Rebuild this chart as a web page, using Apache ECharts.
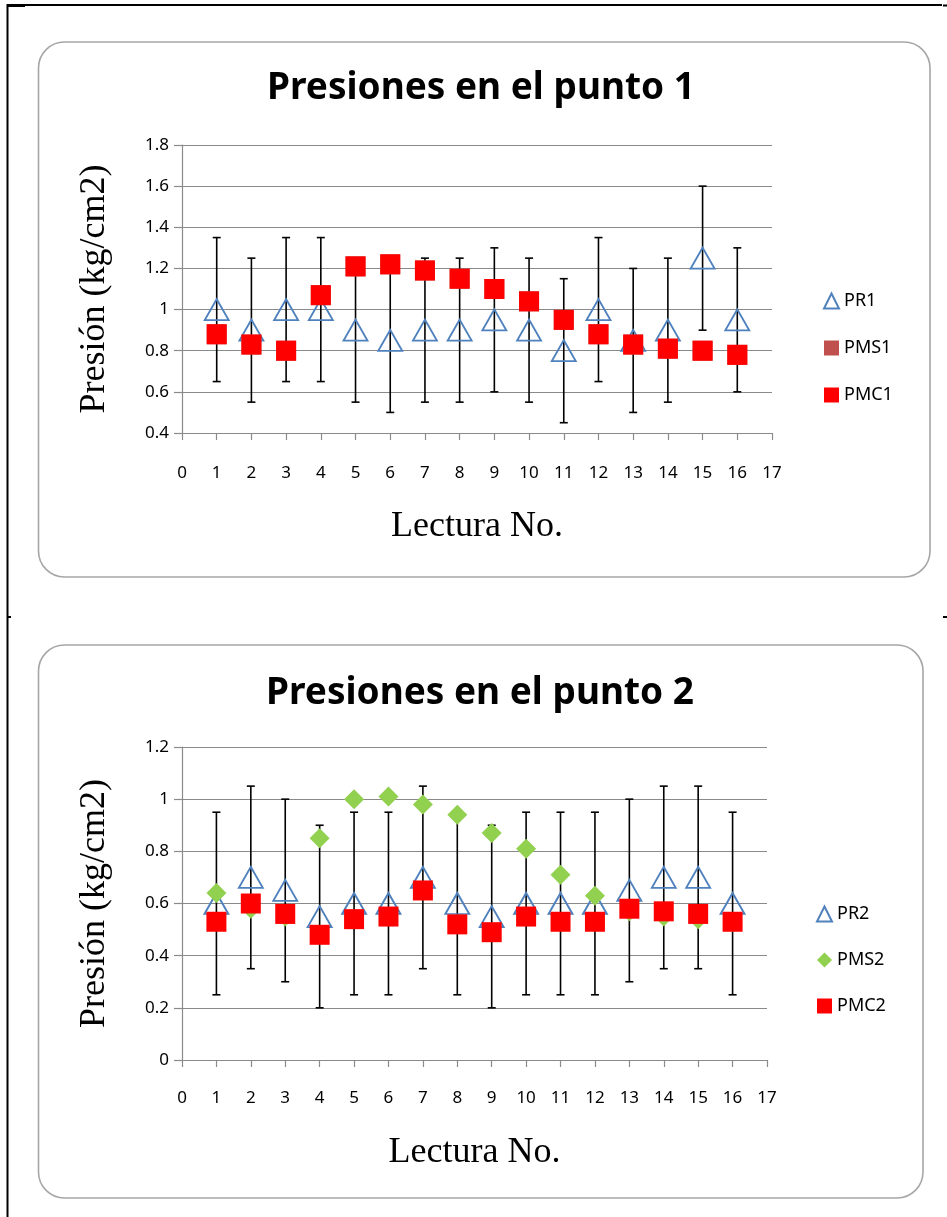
<!DOCTYPE html>
<html>
<head>
<meta charset="utf-8">
<script src="https://cdn.jsdelivr.net/npm/echarts@6/dist/echarts.min.js"></script>
<style>
html,body{margin:0;padding:0;background:#fff;}
#c{width:947px;height:1217px;}
</style>
</head>
<body>
<div id="c"></div>
<script>
// ---- data ----
const LECTURAS = [1,2,3,4,5,6,7,8,9,10,11,12,13,14,15,16];
const X_TICKS = [0,1,2,3,4,5,6,7,8,9,10,11,12,13,14,15,16,17];

// Punto 1
const PR1  = [1.00,0.90,1.00,1.00,0.90,0.85,0.90,0.90,0.95,0.90,0.80,1.00,0.85,0.90,1.25,0.95];
const ERR1 = [0.35,0.35,0.35,0.35,0.35,0.35,0.35,0.35,0.35,0.35,0.35,0.35,0.35,0.35,0.35,0.35];
const PMS1 = [0.88,0.83,0.80,1.07,1.21,1.22,1.19,1.15,1.10,1.04,0.95,0.88,0.83,0.81,0.80,0.78];
const PMC1 = [0.88,0.83,0.80,1.07,1.21,1.22,1.19,1.15,1.10,1.04,0.95,0.88,0.83,0.81,0.80,0.78];
const Y1_TICKS = [0.4,0.6,0.8,1,1.2,1.4,1.6,1.8];

// Punto 2
const PR2  = [0.60,0.70,0.65,0.55,0.60,0.60,0.70,0.60,0.55,0.60,0.60,0.60,0.65,0.70,0.70,0.60];
const ERR2 = [0.35,0.35,0.35,0.35,0.35,0.35,0.35,0.35,0.35,0.35,0.35,0.35,0.35,0.35,0.35,0.35];
const PMS2 = [0.64,0.58,0.55,0.85,1.00,1.01,0.98,0.94,0.87,0.81,0.71,0.63,0.57,0.55,0.54,0.53];
const PMC2 = [0.53,0.60,0.56,0.48,0.54,0.55,0.65,0.52,0.49,0.55,0.53,0.53,0.58,0.57,0.56,0.53];
const Y2_TICKS = [0,0.2,0.4,0.6,0.8,1,1.2];

const TITLES = ['Presiones en el punto 1','Presiones en el punto 2'];
const Y_NAME = 'Presión (kg/cm2)';
const X_NAME = 'Lectura No.';

// ---- helpers ----
const pts = (ys) => LECTURAS.map((x,i)=>[x, ys[i]]);
const errPts = (ys, es) => LECTURAS.map((x,i)=>[x, ys[i]-es[i], ys[i]+es[i]]);

function errRender(params, api){
  const x = api.value(0), lo = api.value(1), hi = api.value(2);
  const a = api.coord([x, lo]), b = api.coord([x, hi]);
  const hw = 4;
  const st = {stroke:'#000', lineWidth:1.6};
  return {type:'group', children:[
    {type:'line', shape:{x1:a[0],y1:a[1],x2:b[0],y2:b[1]}, style:st},
    {type:'line', shape:{x1:a[0]-hw,y1:a[1],x2:a[0]+hw,y2:a[1]}, style:st},
    {type:'line', shape:{x1:b[0]-hw,y1:b[1],x2:b[0]+hw,y2:b[1]}, style:st}
  ]};
}

const GRAY = '#8a8a8a';
const tickFont = {color:'#000', fontFamily:'Noto Sans', fontSize:17};
const nameFont = {color:'#000', fontFamily:'Liberation Serif', fontSize:36};
const titleFont = {fontFamily:'Noto Sans', fontWeight:'bold', fontSize:37, color:'#000'};

function xAxisDef(gi, margin, gap){
  return {
    type:'value', gridIndex:gi, min:X_TICKS[0], max:X_TICKS[X_TICKS.length-1], interval:1,
    axisLine:{show:true, onZero:false, lineStyle:{color:GRAY, width:1.2}},
    axisTick:{show:true, length:7, lineStyle:{color:GRAY, width:1.2}},
    splitLine:{show:false},
    axisLabel:Object.assign({margin:margin}, tickFont),
    name:X_NAME, nameLocation:'middle', nameGap:gap,
    nameTextStyle:nameFont
  };
}
function yAxisDef(gi, ticks, gap){
  return {
    type:'value', gridIndex:gi, min:ticks[0], max:ticks[ticks.length-1], interval:0.2,
    axisLine:{show:true, onZero:false, lineStyle:{color:GRAY, width:1.2}},
    axisTick:{show:true, length:8, lineStyle:{color:GRAY, width:1.2}},
    splitLine:{show:true, lineStyle:{color:GRAY, width:1.2}},
    axisLabel:Object.assign({margin:13, formatter:(v)=>String(Math.round(v*10)/10)}, tickFont),
    name:Y_NAME, nameLocation:'middle', nameGap:gap, nameRotate:90,
    nameTextStyle:nameFont
  };
}

const triStyle = {color:'rgba(0,0,0,0)', borderColor:'#4F81BD', borderWidth:1.8, opacity:1};

const option = {
  animation:false,
  backgroundColor:'#fff',
  title:[
    {text:TITLES[0], left:481, textAlign:'center', top:70, padding:0, textStyle:titleFont},
    {text:TITLES[1], left:480, textAlign:'center', top:675, padding:0, textStyle:titleFont}
  ],
  legend:[
    {orient:'vertical', left:823, top:292, itemGap:29, itemWidth:15, itemHeight:15, padding:0,
     textStyle:{fontFamily:'Noto Sans', fontSize:18, color:'#000'}, data:['PR1','PMS1','PMC1'], selectedMode:false},
    {orient:'vertical', left:816, top:905, itemGap:28, itemWidth:15, itemHeight:15, padding:0,
     textStyle:{fontFamily:'Noto Sans', fontSize:18, color:'#000'}, data:['PR2','PMS2','PMC2'], selectedMode:false}
  ],
  grid:[
    {left:182, top:145, width:590, height:288, outerBoundsMode:'none', containLabel:false},
    {left:182, top:747, width:585, height:313, outerBoundsMode:'none', containLabel:false}
  ],
  xAxis:[ xAxisDef(0, 32, 76), xAxisDef(1, 30, 75) ],
  yAxis:[ yAxisDef(0, Y1_TICKS, 69), yAxisDef(1, Y2_TICKS, 69) ],
  series:[
    {type:'custom', name:'err1', xAxisIndex:0, yAxisIndex:0, renderItem:errRender, data:errPts(PR1,ERR1), encode:{x:0,y:[1,2]}, z:1, silent:true},
    {type:'scatter', name:'PR1', xAxisIndex:0, yAxisIndex:0, symbol:'triangle', symbolSize:[24,21], itemStyle:triStyle, data:pts(PR1), z:2},
    {type:'scatter', name:'PMS1', xAxisIndex:0, yAxisIndex:0, symbol:'rect', symbolSize:20, itemStyle:{color:'#C0504D', opacity:1}, data:pts(PMS1), z:3},
    {type:'scatter', name:'PMC1', xAxisIndex:0, yAxisIndex:0, symbol:'rect', symbolSize:20, itemStyle:{color:'#FF0000', opacity:1}, data:pts(PMC1), z:4},

    {type:'custom', name:'err2', xAxisIndex:1, yAxisIndex:1, renderItem:errRender, data:errPts(PR2,ERR2), encode:{x:0,y:[1,2]}, z:1, silent:true},
    {type:'scatter', name:'PR2', xAxisIndex:1, yAxisIndex:1, symbol:'triangle', symbolSize:[24,21], itemStyle:triStyle, data:pts(PR2), z:2},
    {type:'scatter', name:'PMS2', xAxisIndex:1, yAxisIndex:1, symbol:'diamond', symbolSize:20, itemStyle:{color:'#92D050', opacity:1}, data:pts(PMS2), z:3},
    {type:'scatter', name:'PMC2', xAxisIndex:1, yAxisIndex:1, symbol:'rect', symbolSize:20, itemStyle:{color:'#FF0000', opacity:1}, data:pts(PMC2), z:4}
  ],
  graphic:[
    {type:'rect', shape:{x:38.5, y:42, width:891.5, height:535, r:26}, style:{fill:'none', stroke:'#a6a6a6', lineWidth:1.6}, z:-10, silent:true},
    {type:'rect', shape:{x:38.5, y:645, width:884.5, height:553, r:26}, style:{fill:'none', stroke:'#a6a6a6', lineWidth:1.6}, z:-10, silent:true},
    {type:'line', shape:{x1:7.5, y1:4, x2:7.5, y2:1217}, style:{stroke:'#000', lineWidth:2}, silent:true},
    {type:'line', shape:{x1:7, y1:5, x2:942, y2:5}, style:{stroke:'#000', lineWidth:2}, silent:true},
    {type:'line', shape:{x1:7, y1:5.5, x2:25, y2:5.5}, style:{stroke:'#000', lineWidth:3}, silent:true},
    {type:'line', shape:{x1:943, y1:5.5, x2:947, y2:5.5}, style:{stroke:'#000', lineWidth:2}, silent:true},
    {type:'line', shape:{x1:7, y1:617, x2:11, y2:617}, style:{stroke:'#000', lineWidth:2}, silent:true},
    {type:'line', shape:{x1:943, y1:617, x2:947, y2:617}, style:{stroke:'#000', lineWidth:2}, silent:true}
  ]
};

const chart = echarts.init(document.getElementById('c'), null, {renderer:'canvas'});
chart.setOption(option);
</script>
</body>
</html>
